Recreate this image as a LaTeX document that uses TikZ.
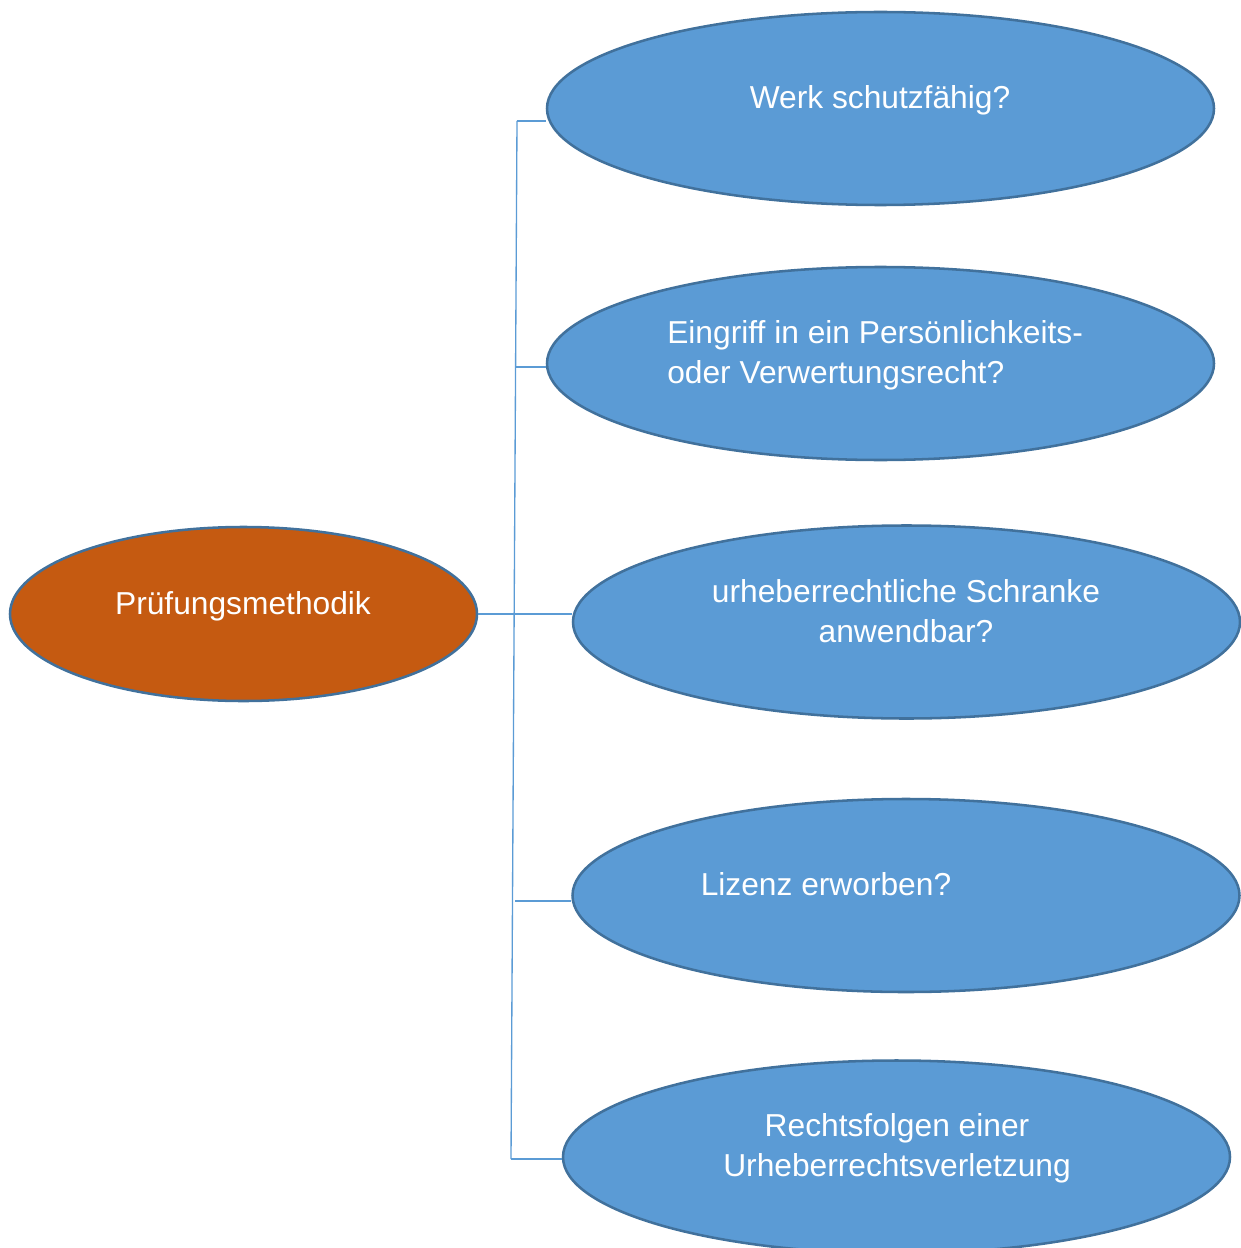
\documentclass[tikz,border=0pt]{standalone}
\usepackage{fontspec}
\setmainfont{Liberation Sans}
\usetikzlibrary{shapes.geometric}
\definecolor{blatt}{RGB}{91,155,213}
\definecolor{rand}{RGB}{65,113,156}
\definecolor{wurzel}{RGB}{197,90,17}
\tikzset{
  blase/.style={ellipse,draw=rand,line width=1.9pt,fill=blatt,inner sep=0pt,
    minimum width=500.25pt,minimum height=144.75pt},
  schrift/.style={text=white,inner sep=0pt,align=center,
    font=\fontsize{23.8}{30}\selectfont},
  ast/.style={draw=blatt,line width=1pt}
}
\begin{document}
\begin{tikzpicture}[x=0.75pt,y=0.75pt,yscale=-1,xscale=1]
\useasboundingbox (0,0) rectangle (1240,1248);
% Ellipsen
\node[blase,fill=wurzel,minimum width=350.25pt,minimum height=130.5pt] (pruef) at (243.5,614) {};
\node[blase] (werk) at (880.5,108.5) {};
\node[blase] (eingriff) at (880.5,363.5) {};
\node[blase] (schranke) at (906.5,622) {};
\node[blase] (lizenz) at (906,895.5) {};
\node[blase] (folgen) at (896.5,1157) {};
% Texte
\node[schrift] (tpruef) at (243,606) {Prüfungsmethodik};
\node[schrift] (twerk) at (880,100) {Werk schutzfähig?};
\node[schrift,align=left,anchor=west] (teingriff) at (667,355) {Eingriff in ein Persönlichkeits-\\oder Verwertungsrecht?};
\node[schrift] (tschranke) at (906,611) {urheberrechtliche Schranke\\anwendbar?};
\node[schrift] (tlizenz) at (826,884) {Lizenz erworben?};
\node[schrift] (tfolgen) at (897,1148) {Rechtsfolgen einer\\Urheberrechtsverletzung};
% Verbinder
\coordinate (k1) at (517,121);
\coordinate (k2) at (516,367);
\coordinate (k4) at (515,901);
\coordinate (k5) at (511,1159);
\draw[ast] (k1) -- (k5);
\draw[ast] (k1) -- (werk.west |- k1);
\draw[ast] (k2) -- (eingriff.west |- k2);
\draw[ast] (pruef.east) -- (pruef.east -| schranke.west);
\draw[ast] (k4) -- (lizenz.west |- k4);
\draw[ast] (k5) -- (folgen.west |- k5);
\end{tikzpicture}
\end{document}
